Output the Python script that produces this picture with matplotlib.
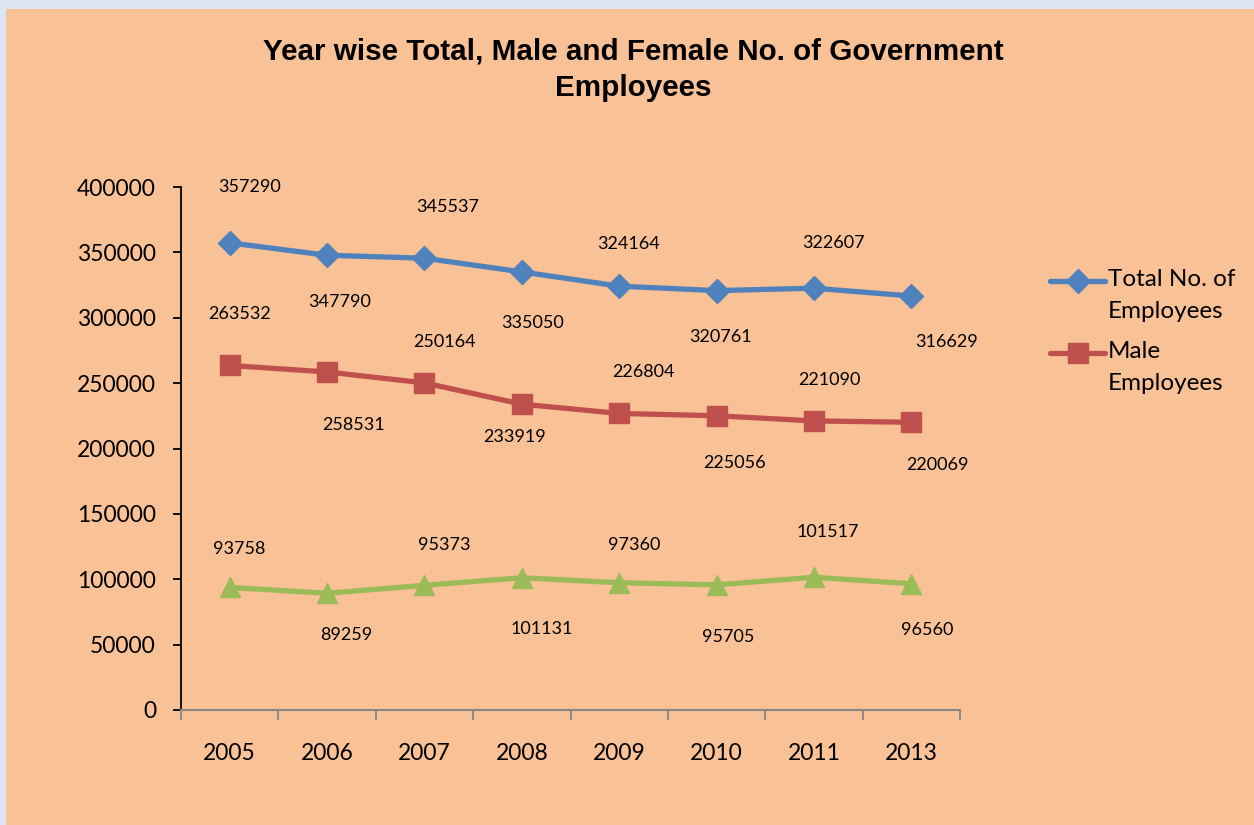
import matplotlib
matplotlib.use("Agg")
import matplotlib.pyplot as plt
from matplotlib.patches import Rectangle
from matplotlib.lines import Line2D

years = ["2005", "2006", "2007", "2008", "2009", "2010", "2011", "2013"]
total = [357290, 347790, 345537, 335050, 324164, 320761, 322607, 316629]
male = [263532, 258531, 250164, 233919, 226804, 225056, 221090, 220069]
female = [93758, 89259, 95373, 101131, 97360, 95705, 101517, 96560]
yticks = [0, 50000, 100000, 150000, 200000, 250000, 300000, 350000, 400000]

title = "Year wise Total, Male and Female No. of Government\nEmployees"

# label placement (pixel offsets from each point: dx right, dy down)
total_lab_dx = [20, 13, 23, 11, 9, 4, 20, 35]
total_lab_dy = [-56, 47, -51, 51, -42, 46, -45, 46]
male_lab_dx = [10, 26, 20, -7, 24, 18, 15, 26]
male_lab_dy = [-51, 53, -41, 33, -41, 47, -41, 43]
female_lab_dx = [10, 19, 20, 20, 15, 12, 14, 16]
female_lab_dy = [-38, 42, -40, 51, -38, 52, -45, 46]

BG = "#F9C196"
BORDER = "#DCE6F2"
BLUE = "#4F81BD"
RED = "#C0504D"
GREEN = "#9BBB59"
FONT = ["Lato", "DejaVu Sans"]

W, H = 1254, 825
fig = plt.figure(figsize=(W / 100, H / 100), dpi=100)
fig.patch.set_facecolor(BORDER)
fig.patches.append(Rectangle((6 / W, 0), 1, (H - 9) / H, transform=fig.transFigure,
                             facecolor=BG, edgecolor="none", zorder=-10))

ax = fig.add_axes([181 / W, (H - 710) / H, (960 - 181) / W, (710 - 187) / H])
ax.set_facecolor("none")
ax.set_zorder(2)

x = list(range(len(years)))
styles = [
    (total, BLUE, "D", 12, total_lab_dx, total_lab_dy),
    (male, RED, "s", 14.5, male_lab_dx, male_lab_dy),
    (female, GREEN, "^", 14, female_lab_dx, female_lab_dy),
]
for series, col, mk, ms, ldx, ldy in styles:
    ax.plot(x, series, color=col, lw=3.8, marker=mk, ms=ms, mec=col, mfc=col,
            solid_capstyle="round", solid_joinstyle="round")
    for i, v in enumerate(series):
        ax.annotate(str(v), (i, v), xytext=(ldx[i], -ldy[i]), textcoords="offset pixels",
                    ha="center", va="center", fontsize=13, family=FONT, color="black")

ax.set_xlim(-0.5, len(years) - 0.5)
ax.set_ylim(0, 400000)
ax.set_yticks(yticks)
ax.set_yticklabels([str(t) for t in yticks], family=FONT, fontsize=16.5)
ax.set_xticks(x)
ax.set_xticklabels(years, family=FONT, fontsize=16.5)
ax.tick_params(axis="x", which="major", length=0, pad=24)
ax.set_xticks([i - 0.5 for i in range(len(years) + 1)], minor=True)
ax.tick_params(axis="x", which="minor", length=7, color="#868686", width=1.3, direction="out")
ax.tick_params(axis="y", length=6, width=1.3, color="black", pad=12)

for s in ("top", "right"):
    ax.spines[s].set_visible(False)
ax.spines["left"].set_color("black")
ax.spines["left"].set_linewidth(1.3)
ax.spines["bottom"].set_color("#868686")
ax.spines["bottom"].set_linewidth(1.5)

fig.text(0.505, (H - 70) / H, title, ha="center", va="center", fontsize=21.3,
         fontweight="bold", family=["Liberation Sans", "DejaVu Sans"], linespacing=1.38)

# legend (Excel style: handle aligned with first text line)
legend_items = [("Total No. of\nEmployees", BLUE, "D", 12, 281),
                ("Male\nEmployees", RED, "s", 14.5, 353)]
for label, col, mk, ms, ypx in legend_items:
    yf = (H - ypx) / H
    fig.add_artist(Line2D([1050 / W, 1105 / W], [yf, yf], transform=fig.transFigure,
                          color=col, lw=3.8, solid_capstyle="round"))
    fig.add_artist(Line2D([1078 / W], [yf], transform=fig.transFigure, color=col,
                          marker=mk, ms=ms, mec=col, mfc=col, lw=0))
    fig.text(1108 / W, yf + 12 / H, label, ha="left", va="top", fontsize=17.5,
             family=FONT, linespacing=1.62)

fig.savefig("out.png", dpi=100, facecolor=fig.get_facecolor())
